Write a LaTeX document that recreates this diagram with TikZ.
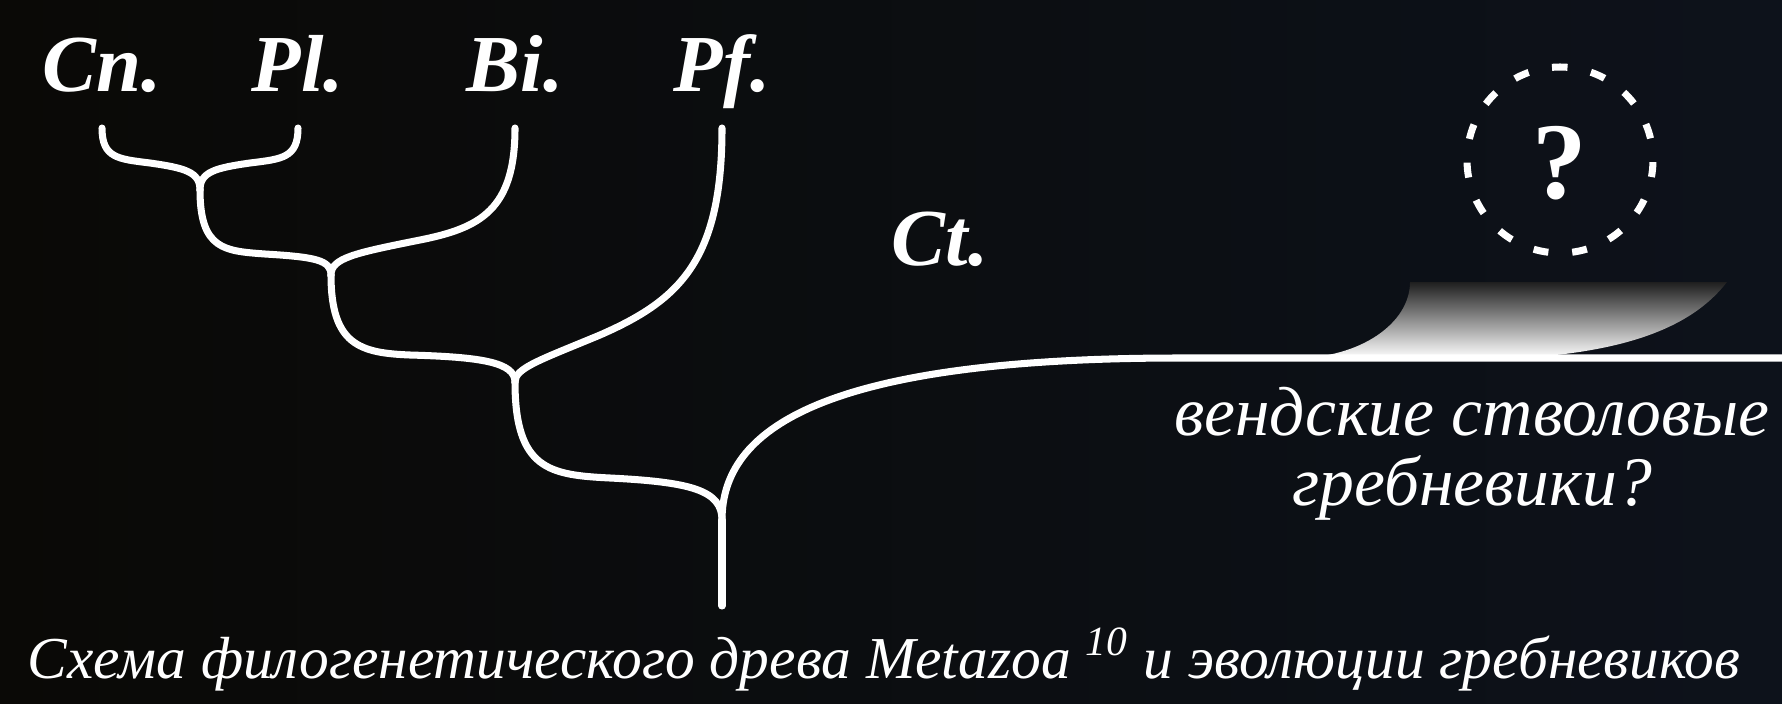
\documentclass[tikz,border=0pt]{standalone}
\usepackage{fontspec}
\setmainfont{Liberation Serif}
\usepackage{xcolor}
\usepackage{tikz}
\usetikzlibrary{calc, positioning}

\definecolor{bgleft}{HTML}{0A0906}
\definecolor{bgright}{HTML}{0D121B}

\tikzset{
    branch/.style={draw=white, line width=2pt},
    taxon/.style={text=white, font=\fontsize{23}{28}\selectfont\bfseries\itshape, inner sep=0pt},
    note/.style={text=white, font=\fontsize{19.8}{24}\selectfont\itshape, inner sep=0pt}
}

\begin{document}
\begin{tikzpicture}[x=0.01cm, y=-0.01cm, line join=round, line cap=round]

        % =========================
        % NỀN
        % =========================
        \shade[left color=bgleft, middle color=bgleft, right color=bgright]
            (0,0) rectangle (1782,703);
        \useasboundingbox (0,0) rectangle (1782,703);

        % =========================
        % TỌA ĐỘ
        % =========================
        \coordinate (Cn) at (102,128);
        \coordinate (Pl) at (298,128);
        \coordinate (Bi) at (515,128);
        \coordinate (Pf) at (722,128);

        \coordinate (J1) at (200,190);
        \coordinate (J2) at (331,275);
        \coordinate (J3) at (515,382);
        \coordinate (J4) at (722,520);
        \coordinate (R)  at (722,606);
        \coordinate (E)  at (1782,358);

        % =========================
        % VỆT SÁNG
        % =========================
        \shade[top color=black!88, middle color=black!15, bottom color=white]
            (1296,358) .. controls (1359,358) and (1410,324) .. (1410,282)
            -- (1727,282) .. controls (1690,330) and (1620,352) .. (1520,358)
            -- cycle;

        % =========================
        % CÂY
        % =========================
        \draw[branch]
            (Cn) .. controls (102,158) and (118,159) .. (150,163)
                 .. controls (185,168) and (200,172) .. (J1);

        \draw[branch]
            (Pl) .. controls (298,158) and (282,159) .. (250,163)
                 .. controls (215,168) and (200,172) .. (J1);

        \draw[branch]
            (J1) .. controls (200,250) and (225,251) .. (265,254)
                 .. controls (315,257) and (331,260) .. (J2);

        \draw[branch]
            (Bi) .. controls (515,210) and (480,228) .. (420,240)
                 .. controls (355,253) and (331,258) .. (J2);

        \draw[branch]
            (J2) .. controls (331,345) and (360,353) .. (410,355)
                 .. controls (480,357) and (515,362) .. (J3);

        \draw[branch]
            (Pf) .. controls (722,260) and (680,300) .. (600,335)
                 .. controls (540,360) and (515,368) .. (J3);

        \draw[branch]
            (J3) .. controls (515,470) and (550,475) .. (610,478)
                 .. controls (690,482) and (722,490) .. (J4);

        \draw[branch]
            (J4) -- (R);

        \draw[branch]
            (J4) .. controls (722,430) and (820,358) .. (1180,358) -- (E);

        % =========================
        % VÒNG TRÒN
        % =========================
        \draw[white, line width=2pt, line cap=butt,
              dash pattern=on 0.15cm off 0.239cm, dash phase=0.075cm]
            (1560,67) arc[start angle=270, end angle=630, radius=93];
        \node[text=white, font=\fontsize{31}{36}\selectfont\bfseries, anchor=base, inner sep=0pt]
            (q) at (1560,198) {?};

        % =========================
        % NHÃN
        % =========================
        \node[taxon, anchor=base] (labCn) at (102,91)  {Cn.};
        \node[taxon, anchor=base] (labPl) at (298,91)  {Pl.};
        \node[taxon, anchor=base] (labBi) at (515,91)  {Bi.};
        \node[taxon, anchor=base] (labPf) at (722,91)  {Pf.};
        \node[taxon, anchor=base] (labCt) at (940,265) {Ct.};

        \node[note, anchor=base] (vend) at (1472,435) {вендские стволовые};
        \node[note, anchor=base] (greb) at (1472,505) {гребневики?};

        \node[text=white, font=\fontsize{16.9}{20}\selectfont\itshape, anchor=base, inner sep=0pt]
            (cap) at (884,678)
            {Схема филогенетического древа Metazoa \textsuperscript{10} и эволюции гребневиков};

    \end{tikzpicture}
\end{document}
